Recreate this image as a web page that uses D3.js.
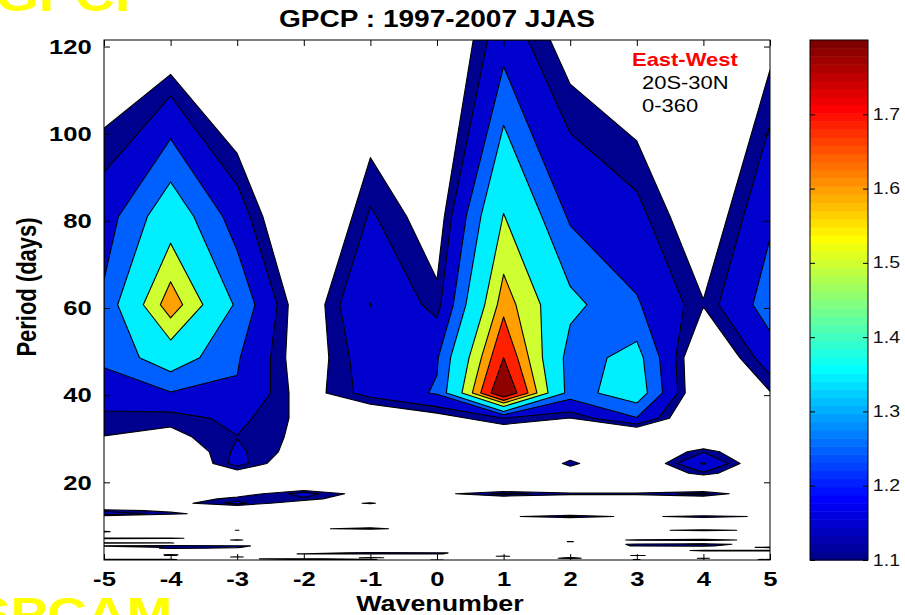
<!DOCTYPE html>
<html>
<head>
<meta charset="utf-8">
<script src="https://cdn.jsdelivr.net/npm/d3@7"></script>
<style>
  html, body { margin: 0; padding: 0; background: #fff; }
  svg { display: block; font-family: "Liberation Sans", Arial, Helvetica, sans-serif; }
</style>
</head>
<body>
<svg id="chart" width="905" height="615"></svg>
<script>
// Wavenumber columns of the spectrum grid
const wavenumbers = [-5, -4, -3, -2, -1, 0, 1, 2, 3, 4, 5];

// Long-period rows (days), top of the panel downwards
const periodsLong = [121.5, 81, 60.75, 48.6, 40.5, 34.71, 30.38, 27, 24.3, 22.09, 20.25];
// Power ratio for the long-period rows, one value per wavenumber (-5 .. 5)
const powerLong = [
  [1.00, 1.02, 0.92, 0.90, 0.98, 0.975, 1.205, 1.055, 1.00, 0.90, 1.073],
  [1.20, 1.43, 1.20, 0.94, 1.16, 1.05, 1.505, 1.235, 1.175, 1.025, 1.233],
  [1.27, 1.66, 1.33, 1.03, 1.252, 1.12, 1.65, 1.38, 1.26, 1.105, 1.30],
  [1.27, 1.42, 1.26, 1.04, 1.20, 1.24, 1.78, 1.30, 1.39, 0.98, 1.20],
  [1.20, 1.245, 1.24, 1.06, 1.18, 1.26, 1.90, 1.30, 1.42, 0.98, 1.095],
  [1.13, 1.12, 1.17, 1.08, 1.00, 1.06, 1.15, 1.098, 1.245, 0.95, 1.00],
  [1.098, 1.077, 1.148, 1.08, 0.95, 0.96, 1.00, 0.95, 0.94, 0.92, 0.96],
  [1.00, 1.01, 1.165, 1.06, 0.95, 0.94, 0.96, 1.05, 0.96, 1.145, 0.96],
  [0.95, 0.96, 1.18, 1.00, 0.94, 0.93, 0.95, 1.12, 0.98, 1.26, 0.97],
  [0.96, 0.97, 1.06, 0.97, 0.95, 0.96, 0.96, 1.05, 0.96, 1.14, 0.96],
  [0.97, 0.96, 0.98, 0.97, 0.96, 0.95, 0.97, 0.96, 0.95, 0.96, 0.97]
];

// Short-period rows (days)
const periodsShort = [18.69, 17.36, 16.2, 15.19, 14.29, 13.5, 12.79, 12.15, 11.57, 11.05,
  10.13, 9.35, 9.0, 8.68, 8.1, 7.59, 7.15, 6.75, 6.39, 6.08, 5.79, 5.4, 5.06, 4.86, 4.58,
  4.34, 4.05, 3.8, 3.57, 3.38, 3.2, 3.04, 2.86, 2.7, 2.56, 2.43, 2.29, 2.17];
// Power ratio for the short-period rows
const powerShort = [
  [0.98, 0.97, 0.99, 1.04, 0.98, 0.97, 0.99, 0.98, 0.97, 0.98, 0.97],
  [0.98, 0.99, 1.05, 1.18, 1.05, 1.073, 1.17, 1.12, 1.12, 1.17, 0.99],
  [0.99, 1.03, 1.13, 1.14, 1.00, 0.99, 1.02, 1.00, 0.99, 1.02, 0.98],
  [0.99, 1.065, 1.17, 1.03, 1.11, 0.98, 0.99, 0.98, 1.00, 0.99, 0.98],
  [1.02, 1.00, 1.04, 0.99, 1.00, 0.98, 1.00, 0.99, 0.98, 1.00, 0.99],
  [1.13, 1.08, 1.00, 0.98, 0.99, 1.00, 0.99, 0.98, 1.00, 0.99, 1.00],
  [1.20, 1.12, 1.04, 0.99, 0.98, 0.99, 1.00, 1.02, 0.99, 0.98, 0.99],
  [1.05, 1.02, 0.99, 1.00, 0.99, 1.00, 1.08, 1.16, 1.068, 1.15, 1.074],
  [0.99, 1.00, 0.98, 0.99, 1.00, 0.99, 1.00, 1.02, 0.99, 1.03, 0.99],
  [1.00, 0.99, 1.00, 0.98, 0.99, 1.00, 0.98, 0.99, 1.00, 0.99, 1.00],
  [1.02, 1.00, 0.99, 1.00, 1.01, 0.99, 1.00, 0.98, 0.99, 1.00, 0.99],
  [0.99, 1.01, 1.00, 1.08, 1.13, 1.02, 0.99, 1.00, 0.99, 1.01, 1.00],
  [1.06, 1.00, 1.103, 0.99, 1.02, 1.00, 0.99, 0.99, 1.05, 1.15, 1.05],
  [1.11, 1.00, 1.02, 1.00, 0.99, 1.00, 1.00, 0.99, 1.00, 1.03, 1.00],
  [1.01, 0.99, 1.00, 1.00, 1.00, 0.99, 1.01, 1.00, 0.99, 1.00, 1.01],
  [1.00, 1.01, 0.99, 1.00, 1.01, 1.00, 0.99, 1.00, 1.01, 0.99, 1.00],
  [1.12, 1.11, 1.06, 1.00, 0.99, 1.00, 1.00, 0.99, 1.02, 1.03, 1.00],
  [1.00, 1.01, 1.11, 0.99, 1.00, 0.99, 1.00, 1.00, 1.12, 1.14, 1.06],
  [1.01, 0.99, 1.00, 1.00, 1.00, 1.00, 0.99, 1.105, 1.00, 1.01, 1.00],
  [1.11, 1.105, 1.00, 1.01, 0.99, 1.00, 1.00, 0.99, 1.00, 1.02, 1.00],
  [1.00, 1.02, 1.00, 0.99, 1.00, 0.99, 1.00, 1.00, 1.12, 1.16, 1.02],
  [1.11, 1.12, 1.11, 1.06, 1.00, 0.99, 1.00, 1.01, 1.11, 1.12, 1.00],
  [1.02, 1.11, 1.105, 1.00, 0.99, 1.00, 1.00, 0.99, 1.00, 1.03, 1.12],
  [1.00, 1.12, 1.08, 1.00, 1.00, 1.01, 0.99, 1.00, 0.99, 1.00, 1.02],
  [1.01, 1.00, 0.99, 1.00, 1.02, 1.00, 1.00, 1.00, 1.00, 1.01, 1.00],
  [1.00, 1.01, 1.00, 0.99, 1.00, 0.99, 1.01, 1.00, 1.02, 1.12, 1.13],
  [1.01, 1.00, 1.00, 1.00, 1.03, 1.00, 1.00, 0.99, 1.00, 1.04, 1.05],
  [1.00, 0.99, 1.00, 1.02, 1.15, 1.12, 1.00, 1.00, 0.99, 1.00, 1.00],
  [1.00, 1.00, 1.01, 1.11, 1.12, 1.11, 1.00, 1.00, 1.00, 0.99, 1.01],
  [1.01, 1.11, 1.02, 1.00, 1.00, 0.99, 1.00, 1.01, 1.00, 1.00, 1.00],
  [1.00, 1.11, 0.99, 1.00, 1.00, 1.00, 1.02, 1.00, 1.11, 1.03, 1.00],
  [1.02, 1.00, 1.00, 1.01, 1.00, 1.02, 1.11, 1.00, 1.00, 1.00, 1.02],
  [1.00, 1.01, 1.11, 1.00, 1.00, 1.00, 1.00, 1.01, 1.00, 1.00, 1.00],
  [1.01, 1.00, 1.02, 1.00, 1.12, 1.02, 1.00, 1.11, 1.00, 1.00, 1.01],
  [1.00, 1.01, 1.00, 1.01, 1.00, 1.00, 1.01, 1.12, 1.00, 1.11, 1.00],
  [1.01, 1.00, 1.08, 1.14, 1.00, 1.00, 1.00, 1.00, 1.02, 1.00, 1.03],
  [1.11, 1.11, 1.00, 1.12, 1.11, 1.01, 1.00, 1.01, 1.105, 1.00, 1.12],
  [1.02, 1.00, 1.01, 1.00, 1.00, 1.11, 1.00, 1.00, 1.00, 1.01, 1.12]
];

// Filled contour levels and colour axis
const levels = [1.1, 1.15, 1.25, 1.35, 1.5, 1.6, 1.68, 1.78];
const colorRange = [1.1, 1.8];
const colorTicks = [1.1, 1.2, 1.3, 1.4, 1.5, 1.6, 1.7];
const periodTicks = [20, 40, 60, 80, 100, 120];

const titleText = "GPCP : 1997-2007 JJAS";
const noteLines = ["20S-30N", "0-360"];

// ---------------------------------------------------------------
const periods = periodsLong.concat(periodsShort);
const rows = powerLong.concat(powerShort);
const nx = wavenumbers.length, ny = periods.length;
const grid = rows.flat();

const svg = d3.select("#chart");
const plot = { left: 104, right: 770, top: 40, bottom: 560 };
const SX = 1.22; // horizontal stretch of the lettering

const x = d3.scaleLinear().domain([-5, 5]).range([plot.left, plot.right]);
const y = d3.scaleLinear().domain([periods[ny - 1], periods[0]]).range([plot.bottom, plot.top]);

// MATLAB-style jet colormap with 64 entries
function jetRow(i) { // i = 1..64
  const r = i <= 24 ? 0 : i <= 40 ? (i - 24) / 16 : i <= 56 ? 1 : 1 - (i - 56) / 16;
  const g = i <= 8 ? 0 : i <= 24 ? (i - 8) / 16 : i <= 40 ? 1 : i <= 56 ? 1 - (i - 40) / 16 : 0;
  const b = i <= 8 ? (i + 8) / 16 : i <= 24 ? 1 : i <= 40 ? 1 - (i - 24) / 16 : 0;
  return d3.rgb(r * 255, g * 255, b * 255).formatHex();
}
const jetIndex = d3.scaleQuantize().domain(colorRange).range(d3.range(1, 65));
const colorOf = v => jetRow(jetIndex(Math.min(Math.max(v, colorRange[0]), colorRange[1] - 1e-9)));

// grid coordinates -> screen (linear between grid nodes, like contourf on a grid)
function toScreen(pt) {
  const gi = Math.max(0, Math.min(nx - 1, pt[0] - 0.5));
  const gj = Math.max(0, Math.min(ny - 1, pt[1] - 0.5));
  const j0 = Math.min(Math.floor(gj), ny - 2), t = gj - j0;
  const p = periods[j0] + t * (periods[j0 + 1] - periods[j0]);
  const i0 = Math.min(Math.floor(gi), nx - 2), s = gi - i0;
  const k = wavenumbers[i0] + s * (wavenumbers[i0 + 1] - wavenumbers[i0]);
  return [x(k), y(p)];
}
const ringPath = ring => ring.map((pt, k) => (k ? "L" : "M") + toScreen(pt).map(v => v.toFixed(2)).join(",")).join("") + "Z";

svg.append("rect").attr("width", 905).attr("height", 615).attr("fill", "#fff");

svg.append("clipPath").attr("id", "plotClip")
  .append("rect").attr("x", plot.left).attr("y", plot.top)
  .attr("width", plot.right - plot.left).attr("height", plot.bottom - plot.top);

const bands = d3.contours().size([nx, ny]).thresholds(levels)(grid);

svg.append("g").attr("clip-path", "url(#plotClip)")
  .selectAll("path").data(bands).join("path")
  .attr("d", c => c.coordinates.map(poly => poly.map(ringPath).join("")).join(""))
  .attr("fill", c => colorOf(c.value))
  .attr("fill-rule", "evenodd")
  .attr("stroke", "#000")
  .attr("stroke-width", 1.1)
  .attr("stroke-linejoin", "round");

// Axes (ticks point inwards on all four sides)
function styleAxis(g) {
  g.select(".domain").remove();
  g.selectAll(".tick line").attr("stroke", "#000").attr("stroke-width", 1);
}
const tickFont = g => g.selectAll("text")
  .attr("fill", "#000").attr("font-size", 21).attr("font-weight", "bold")
  .attr("font-family", '"Liberation Sans", Arial, sans-serif');

svg.append("g").attr("transform", `translate(0,${plot.bottom})`)
  .call(d3.axisBottom(x).tickValues(wavenumbers).tickFormat(d => String(d))
    .tickSizeInner(-6).tickSizeOuter(0).tickPadding(11))
  .call(styleAxis).call(tickFont)
  .call(g => g.selectAll("text").attr("transform", `scale(${SX},1)`));

svg.append("g").attr("transform", `translate(0,${plot.top})`)
  .call(d3.axisTop(x).tickValues(wavenumbers).tickFormat("").tickSizeInner(-6).tickSizeOuter(0))
  .call(styleAxis);

svg.append("g").attr("transform", `translate(${plot.left},0)`)
  .call(d3.axisLeft(y).tickValues(periodTicks).tickFormat(d => String(d))
    .tickSizeInner(-6).tickSizeOuter(0).tickPadding(10))
  .call(styleAxis).call(tickFont)
  .call(g => g.selectAll("text").attr("transform", `scale(${SX},1)`));

svg.append("g").attr("transform", `translate(${plot.right},0)`)
  .call(d3.axisRight(y).tickValues(periodTicks).tickFormat("").tickSizeInner(-6).tickSizeOuter(0))
  .call(styleAxis);

svg.append("rect").attr("x", plot.left).attr("y", plot.top)
  .attr("width", plot.right - plot.left).attr("height", plot.bottom - plot.top)
  .attr("fill", "none").attr("stroke", "#000").attr("stroke-width", 1);

// Text helper with the stretched lettering
function label(str, px, py, opts = {}) {
  return svg.append("text")
    .attr("transform", `translate(${px},${py}) scale(${SX},1)` + (opts.rotate ? ` rotate(${opts.rotate})` : ""))
    .attr("text-anchor", opts.anchor || "start")
    .attr("font-size", opts.size || 18)
    .attr("font-weight", opts.weight || "normal")
    .attr("fill", opts.fill || "#000")
    .text(str);
}

label(titleText, (plot.left + plot.right) / 2, 27, { anchor: "middle", size: 23, weight: "bold" });
label("Wavenumber", (plot.left + plot.right) / 2 + 3, 611, { anchor: "middle", size: 22, weight: "bold" });
label("Period (days)", 36, 287, { anchor: "middle", size: 22, weight: "bold", rotate: -90 });

label("East-West", 632, 66, { size: 18, weight: "bold", fill: "#ff0000" });
noteLines.forEach((s, i) => label(s, 642, 89 + i * 23, { size: 18 }));

// Colour bar
const cb = { left: 810, right: 868 };
const cy = d3.scaleLinear().domain(colorRange).range([plot.bottom, plot.top]);
const steps = d3.range(1, 65);
const stepH = (colorRange[1] - colorRange[0]) / 64;
svg.append("g").selectAll("rect").data(steps).join("rect")
  .attr("x", cb.left).attr("width", cb.right - cb.left)
  .attr("y", i => cy(colorRange[0] + i * stepH))
  .attr("height", i => cy(colorRange[0] + (i - 1) * stepH) - cy(colorRange[0] + i * stepH) + 0.5)
  .attr("fill", i => jetRow(i));

svg.append("g").attr("transform", `translate(${cb.right},0)`)
  .call(d3.axisRight(cy).tickValues(colorTicks).tickFormat(d3.format(".1f"))
    .tickSizeInner(-5).tickSizeOuter(0).tickPadding(4))
  .call(styleAxis)
  .call(g => g.selectAll("text").attr("font-size", 16).attr("fill", "#111")
    .attr("transform", `scale(${SX},1)`));
svg.append("g").attr("transform", `translate(${cb.left},0)`)
  .call(d3.axisLeft(cy).tickValues(colorTicks).tickFormat("").tickSizeInner(-5).tickSizeOuter(0))
  .call(styleAxis);
svg.append("rect").attr("x", cb.left).attr("y", plot.top)
  .attr("width", cb.right - cb.left).attr("height", plot.bottom - plot.top)
  .attr("fill", "none").attr("stroke", "#000").attr("stroke-width", 1);

// Slide headings partly visible at the page edges
label("GPCP", -4, 11, { size: 45, weight: "bold", fill: "#ffff00" });
label("SPCAM", -26, 629, { size: 45, weight: "bold", fill: "#ffff00" });
</script>
</body>
</html>
